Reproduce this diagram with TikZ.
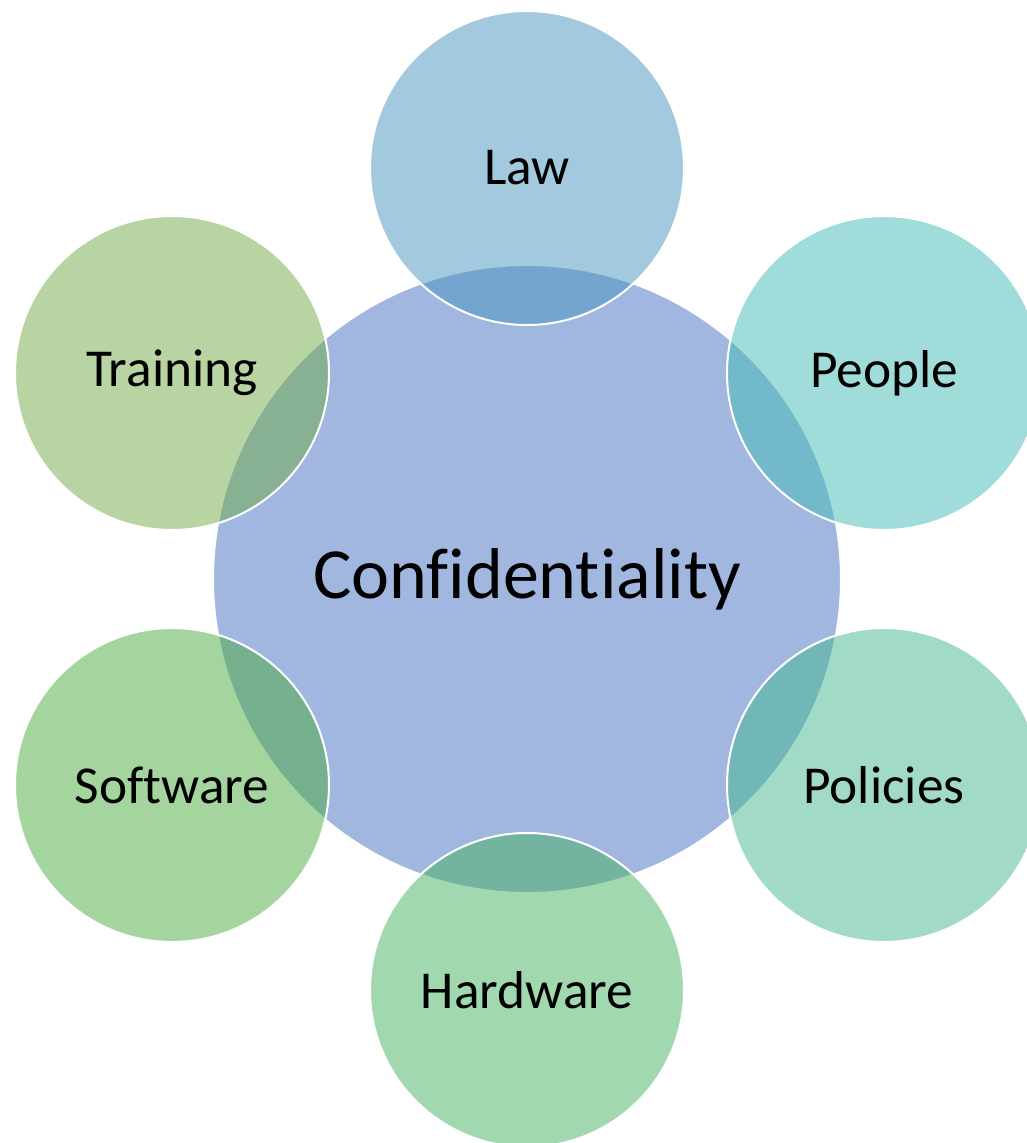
\documentclass[tikz,border=0pt]{standalone}
\usepackage{fontspec}
\setmainfont[Ligatures={NoCommon}]{Carlito}
\definecolor{cmain}{RGB}{161,183,224}
\definecolor{claw}{RGB}{71,149,189}
\definecolor{cpeople}{RGB}{67,187,183}
\definecolor{cpolicies}{RGB}{69,183,143}
\definecolor{chardware}{RGB}{69,179,97}
\definecolor{csoftware}{RGB}{77,173,63}
\definecolor{ctraining}{RGB}{113,171,71}
\begin{document}
\begin{tikzpicture}[x=0.75pt,y=-0.75pt,
  hub/.style={circle, inner sep=0pt, minimum size=471pt, fill=cmain, draw=white, line width=1.5pt,
    font=\fontsize{54}{60}\selectfont},
  sat/.style={circle, inner sep=0pt, minimum size=235.5pt, fill=#1, fill opacity=0.5, text opacity=1,
    draw=white, draw opacity=1, line width=1.5pt, font=\fontsize{40}{44}\selectfont}]
\useasboundingbox (0,0) rectangle (1027,1143);
\clip (0,0) rectangle (1027,1143);
\fill[white] (0,0) rectangle (1027,1143);
\node[hub] (conf) at (527,579) {Confidentiality};
\node[sat=claw] (law) at (527,168) {Law};
\node[sat=cpeople] (people) at (884,373) {People};
\node[sat=cpolicies] (policies) at (884,785) {Policies};
\node[sat=chardware] (hardware) at (527,990) {Hardware};
\node[sat=csoftware] (software) at (172,785) {Software};
\node[sat=ctraining] (training) at (172,373) {Training};
\end{tikzpicture}
\end{document}
